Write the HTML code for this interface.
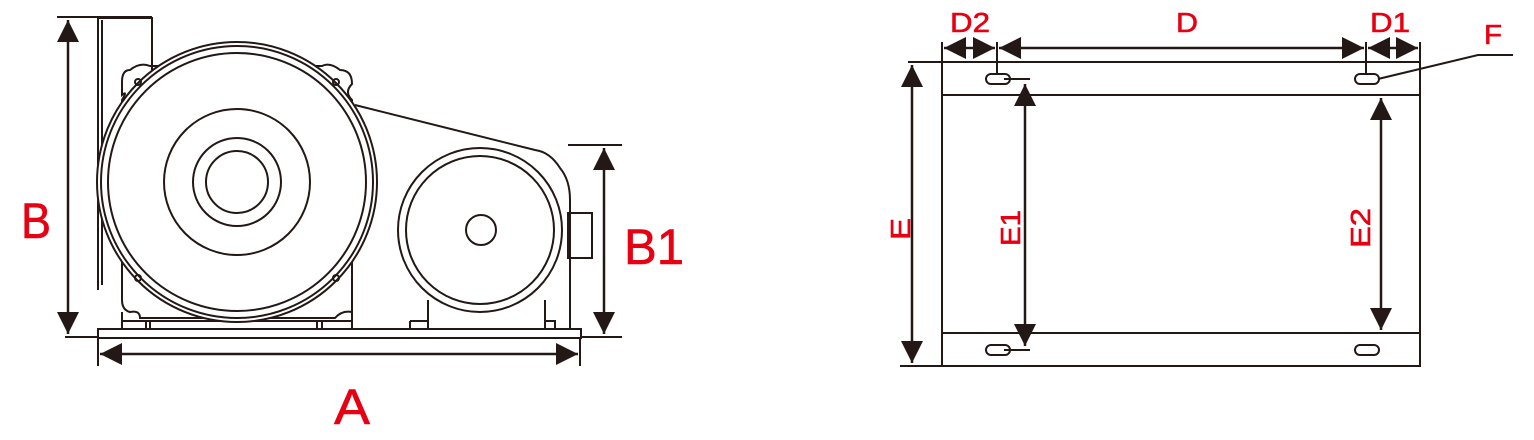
<!DOCTYPE html>
<html><head><meta charset="utf-8"><style>
html,body{margin:0;padding:0;background:#fff;}
svg{display:block;}
text{font-family:"Liberation Sans",sans-serif;fill:#e60012;stroke:#e60012;stroke-width:0.6;}
</style></head><body>
<svg width="1534" height="440" viewBox="0 0 1534 440" xmlns="http://www.w3.org/2000/svg">
<defs>
<marker id="ab" viewBox="0 0 10 10" refX="10" refY="5" markerWidth="22" markerHeight="22" markerUnits="userSpaceOnUse" orient="auto-start-reverse">
<path d="M0,0 L10,5 L0,10 z" fill="#231815"/>
</marker>
</defs>
<g fill="none" stroke="#231815" stroke-width="2">
<!-- LEFT DRAWING -->
<path d="M98,18 H152 V72"/>
<path d="M98,18 V290"/>
<path d="M102,20 V285"/>
<path d="M130,70 Q122,70 122,82 V95 Q128,90 122,100 V300 Q122,310 130,312 Q140,310 140,318 H335 Q342,310 352,312 V100 Q344,92 352,84 Q352,70 340,70 Q330,62 322,66 H150 Q140,62 130,70 Z"/>
<path d="M122,312 V329 M352,312 V329"/>
<path d="M122,321 H352 M146,321 V329 M150,321 V329 M317,321 V329 M322,321 V329"/>
<circle cx="237" cy="182" r="140" fill="#fff"/>
<circle cx="237" cy="182" r="136"/>
<circle cx="237" cy="182" r="129"/>
<circle cx="237" cy="182" r="73"/>
<circle cx="237" cy="182" r="44"/>
<circle cx="237" cy="182" r="31"/>
<circle cx="138" cy="82" r="3"/>
<circle cx="336" cy="82" r="3"/>
<circle cx="138" cy="278" r="3"/>
<circle cx="336" cy="278" r="3"/>
<path d="M355,105 L535,150 Q550,152 560,168 Q570,180 570,200 V329"/>
<path d="M428,300 V329 M545,300 V329 M410,321 H428 M545,321 H555 V329 M410,321 V329"/>
<circle cx="480" cy="230" r="82" fill="#fff"/>
<circle cx="480" cy="230" r="74"/>
<circle cx="481" cy="230" r="15"/>
<rect x="568" y="213" width="24" height="45"/>
<rect x="98" y="329" width="483" height="9"/>
<path d="M57,17 H152 M65,337 H98"/>
<path d="M68,20 V334" stroke-width="2.5" marker-start="url(#ab)" marker-end="url(#ab)"/>
<path d="M98,338 V366 M580,338 V366"/>
<path d="M100,354 H578" stroke-width="2.5" marker-start="url(#ab)" marker-end="url(#ab)"/>
<path d="M568,145 H622 M581,337 H622"/>
<path d="M604,148 V334" stroke-width="2.5" marker-start="url(#ab)" marker-end="url(#ab)"/>

<!-- RIGHT DRAWING -->
<rect x="942" y="62" width="478" height="304"/>
<path d="M942,95 H1420 M942,333 H1420"/>
<path d="M908,62 H942 M900,366 H942"/>
<path d="M912,65 V363" stroke-width="2.5" marker-start="url(#ab)" marker-end="url(#ab)"/>
<path d="M942,42 V62 M997,42 V74 M1366,42 V74 M1420,42 V62"/>
<path d="M944,48 H995" stroke-width="2.5" marker-start="url(#ab)" marker-end="url(#ab)"/>
<path d="M999,48 H1364" stroke-width="2.5" marker-start="url(#ab)" marker-end="url(#ab)"/>
<path d="M1368,48 H1418" stroke-width="2.5" marker-start="url(#ab)" marker-end="url(#ab)"/>
<rect x="986" y="74" width="24" height="10" rx="5"/>
<rect x="1355" y="74" width="24" height="10" rx="5"/>
<rect x="986" y="345" width="24" height="10" rx="5"/>
<rect x="1355" y="345" width="24" height="10" rx="5"/>
<path d="M1004,79 H1030 M1004,350 H1030"/>
<path d="M1025,84 V346" stroke-width="2.5" marker-start="url(#ab)" marker-end="url(#ab)"/>
<path d="M1381,98 V330" stroke-width="2.5" marker-start="url(#ab)" marker-end="url(#ab)"/>
<path d="M1378,79 L1478,55 H1513"/>
</g>
<text x="21" y="238" font-size="50" textLength="30" lengthAdjust="spacingAndGlyphs">B</text>
<text x="624" y="264" font-size="50" textLength="60" lengthAdjust="spacingAndGlyphs">B1</text>
<text x="334" y="424" font-size="50" textLength="36" lengthAdjust="spacingAndGlyphs">A</text>
<text x="950" y="32" font-size="28" textLength="40" lengthAdjust="spacingAndGlyphs">D2</text>
<text x="1176" y="32" font-size="28" textLength="22" lengthAdjust="spacingAndGlyphs">D</text>
<text x="1370" y="32" font-size="28" textLength="40" lengthAdjust="spacingAndGlyphs">D1</text>
<text x="1484" y="44" font-size="28" textLength="18" lengthAdjust="spacingAndGlyphs">F</text>
<text transform="translate(910,240) rotate(-90)" font-size="28" textLength="22" lengthAdjust="spacingAndGlyphs">E</text>
<text transform="translate(1020,246) rotate(-90)" font-size="28" textLength="36" lengthAdjust="spacingAndGlyphs">E1</text>
<text transform="translate(1370,248) rotate(-90)" font-size="28" textLength="40" lengthAdjust="spacingAndGlyphs">E2</text>
</svg>
</body></html>
